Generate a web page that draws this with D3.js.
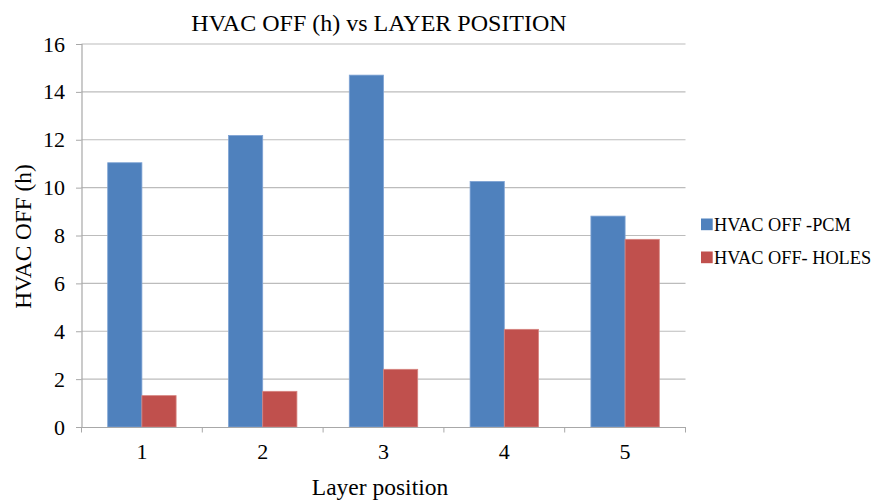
<!DOCTYPE html>
<html>
<head>
<meta charset="utf-8">
<script src="https://cdn.jsdelivr.net/npm/d3@7"></script>
</head>
<body style="margin:0; background:#fff">
<svg id="chart" width="885" height="502" style="display:block"></svg>
<script>
const categories = ['1', '2', '3', '4', '5'];
const seriesNames = ['HVAC OFF -PCM', 'HVAC OFF- HOLES'];
const pcmValues = [11.04, 12.18, 14.7, 10.26, 8.81];
const holesValues = [1.31, 1.49, 2.41, 4.08, 7.84];
const yTicks = [0, 2, 4, 6, 8, 10, 12, 14, 16];
const colors = ['#4f81bd', '#c0504d'];
const strokes = ['#7fa3d4', '#d6837f'];

const margin = { top: 44, right: 199.5, bottom: 75, left: 81.5 };
const width = 885 - margin.left - margin.right;
const height = 502 - margin.top - margin.bottom;
const FONT = 'Liberation Serif';

const svg = d3.select('#chart');
const g = svg.append('g').attr('transform', `translate(${margin.left},${margin.top})`);

const rows = categories.map((c, i) => ({ cat: c, values: [pcmValues[i], holesValues[i]] }));

const x0 = d3.scaleBand().domain(categories).range([0, width]).padding(0);
const x1 = d3.scaleBand().domain([0, 1]).range([0, x0.bandwidth()]).paddingInner(0).paddingOuter(0.766);
const y = d3.scaleLinear().domain([0, 16]).range([height, 0]);

// grid lines
g.append('g')
  .selectAll('line')
  .data(yTicks.filter((t) => t > 0))
  .enter()
  .append('line')
  .attr('x1', 0)
  .attr('x2', width)
  .attr('y1', (d) => y(d))
  .attr('y2', (d) => y(d))
  .attr('stroke', '#bcbcbc')
  .attr('stroke-width', 1.2);

// bars
const groups = g
  .append('g')
  .selectAll('g')
  .data(rows)
  .enter()
  .append('g')
  .attr('transform', (d) => `translate(${x0(d.cat)},0)`);

groups
  .selectAll('rect')
  .data((d) => d.values.map((v, i) => ({ v, i })))
  .enter()
  .append('rect')
  .attr('x', (d) => x1(d.i))
  .attr('y', (d) => y(d.v))
  .attr('width', x1.bandwidth())
  .attr('height', (d) => height - y(d.v))
  .attr('fill', (d) => colors[d.i])
  .attr('stroke', (d) => strokes[d.i])
  .attr('stroke-width', 0.8);

// y axis
const yAxis = g
  .append('g')
  .call(d3.axisLeft(y).tickValues(yTicks).tickSize(5.5).tickPadding(11))
  .attr('font-family', FONT)
  .attr('font-size', 22);
yAxis.select('.domain').attr('stroke', '#a8a8a8').attr('stroke-width', 1.2);
yAxis.selectAll('.tick line').attr('stroke', '#a8a8a8');
yAxis.selectAll('.tick text').style('font-family', FONT).style('font-size', '22px').attr('fill', '#000');

// x axis
const xAxis = g
  .append('g')
  .attr('transform', `translate(0,${height})`)
  .call(d3.axisBottom(x0).tickSize(0).tickPadding(16.5))
  .attr('font-family', FONT)
  .attr('font-size', 22);
xAxis.select('.domain').attr('stroke', '#a8a8a8').attr('stroke-width', 1.2);
xAxis.selectAll('.tick text').style('font-family', FONT).style('font-size', '22px').attr('fill', '#000');
// tick marks at band edges
xAxis
  .append('g')
  .selectAll('line')
  .data(categories.concat(['end']))
  .enter()
  .append('line')
  .attr('x1', (d) => (d === 'end' ? width : x0(d)))
  .attr('x2', (d) => (d === 'end' ? width : x0(d)))
  .attr('y1', 0)
  .attr('y2', 5.5)
  .attr('stroke', '#a8a8a8');

// title
svg
  .append('text')
  .attr('x', 379)
  .attr('y', 31)
  .attr('text-anchor', 'middle')
  .style('font-family', FONT)
  .style('font-size', '24px')
  .text('HVAC OFF (h) vs LAYER POSITION');

// axis titles
svg
  .append('text')
  .attr('transform', `translate(31,${margin.top + height / 2 + 1}) rotate(-90)`)
  .attr('text-anchor', 'middle')
  .style('font-family', FONT)
  .style('font-size', '23.3px')
  .text('HVAC OFF (h)');

svg
  .append('text')
  .attr('x', 380)
  .attr('y', 494.5)
  .attr('text-anchor', 'middle')
  .style('font-family', FONT)
  .style('font-size', '23.5px')
  .text('Layer position');

// legend
const legend = svg
  .append('g')
  .selectAll('g')
  .data(seriesNames)
  .enter()
  .append('g')
  .attr('transform', (d, i) => `translate(701,${218.5 + i * 33})`);

legend
  .append('rect')
  .attr('width', 11.7)
  .attr('height', 11.7)
  .attr('fill', (d, i) => colors[i]);

legend
  .append('text')
  .attr('x', 13)
  .attr('y', 12.5)
  .style('font-family', FONT)
  .style('font-size', '18.3px')
  .text((d) => d);
</script>
</body>
</html>
